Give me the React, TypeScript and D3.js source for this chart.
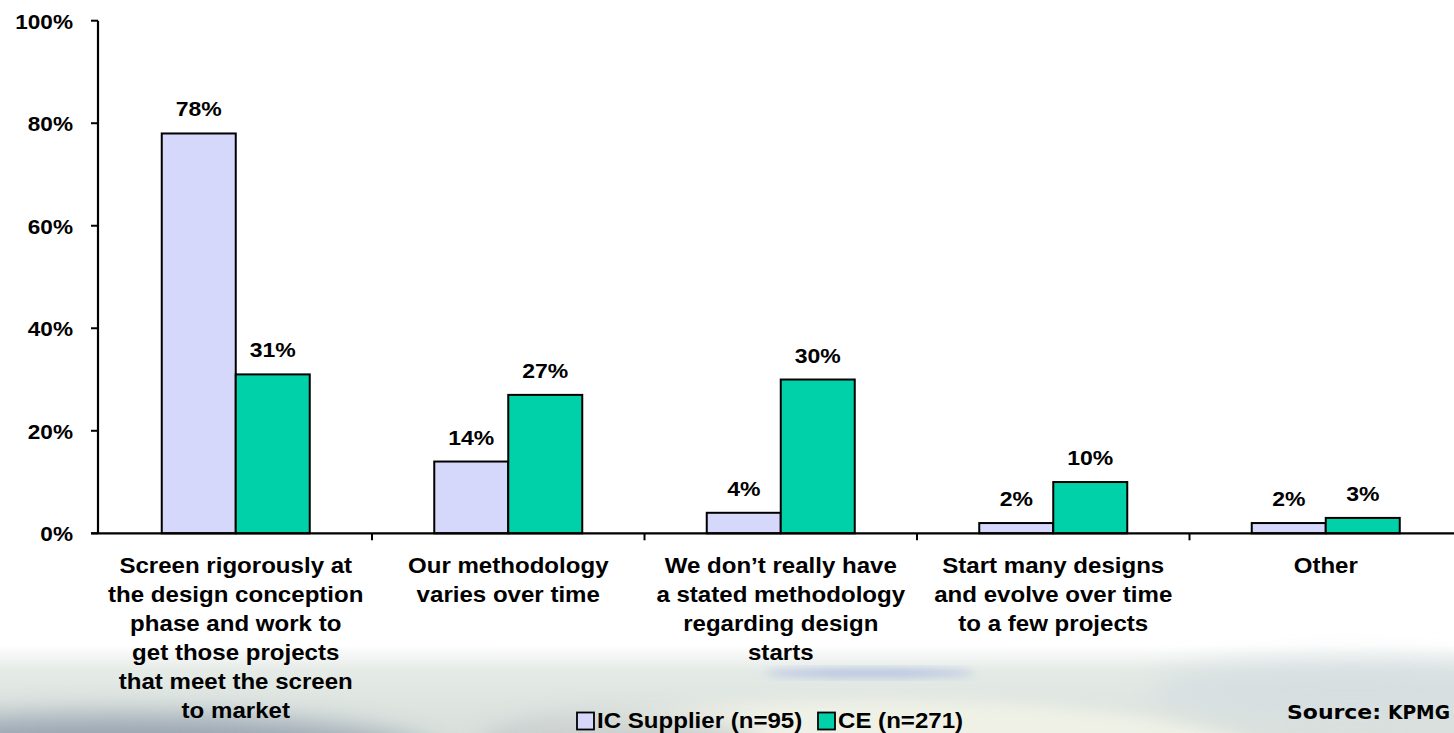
import React from "react";
import * as d3 from "d3";

const categories: string[][] = [
  ["Screen rigorously at", "the design conception", "phase and work to", "get those projects", "that meet the screen", "to market"],
  ["Our methodology", "varies over time"],
  ["We don’t really have", "a stated methodology", "regarding design", "starts"],
  ["Start many designs", "and evolve over time", "to a few projects"],
  ["Other"],
];
const seriesNames = ["IC Supplier (n=95)", "CE (n=271)"];
const icSupplier = [78, 14, 4, 2, 2];
const ce = [31, 27, 30, 10, 3];
const yTicks = [0, 20, 40, 60, 80, 100];
const colors = ["#D5D7FB", "#00D1A9"];
const sourceParts = ["Source:", "KPMG"];

const W = 1454;
const H = 733;
const FONT = "'Liberation Sans', Arial, Helvetica, sans-serif";

export default function App() {
  const keys = categories.map((_, i) => String(i));
  const bandW = 272.5;
  const x0 = d3.scaleBand<string>().domain(keys).range([99.5, 99.5 + bandW * keys.length]).padding(0);
  const bw = x0.bandwidth();
  const groupW = 148;
  const x1 = d3.scaleBand<string>().domain(seriesNames).range([(bw - groupW) / 2, (bw + groupW) / 2]).padding(0);
  const y = d3.scaleLinear().domain([0, 100]).range([533.3, 20.7]);
  const series = [icSupplier, ce];
  const axisX = 98;

  return (
    <svg width={W} height={H} style={{ position: "absolute", left: 0, top: 0 }} xmlns="http://www.w3.org/2000/svg">
      <defs>
        <linearGradient id="bgGrad" x1="0" y1="0" x2="0" y2="1">
          <stop offset="0" stopColor="#ffffff" />
          <stop offset="0.3" stopColor="#e4eae6" />
          <stop offset="1" stopColor="#d9e0dc" />
        </linearGradient>
        <filter id="blur8" x="-50%" y="-50%" width="200%" height="200%">
          <feGaussianBlur stdDeviation="8" />
        </filter>
        <filter id="blur4" x="-50%" y="-50%" width="200%" height="200%">
          <feGaussianBlur stdDeviation="4" />
        </filter>
        <filter id="blur14" x="-50%" y="-50%" width="200%" height="200%">
          <feGaussianBlur stdDeviation="14" />
        </filter>
      </defs>
      <rect x={0} y={0} width={W} height={H} fill="#ffffff" />
      {/* background swoosh */}
      <rect x={0} y={645} width={W} height={H - 645} fill="url(#bgGrad)" />
      <ellipse cx={110} cy={760} rx={330} ry={45} fill="#8895a7" filter="url(#blur14)" opacity={0.8} />
      <ellipse cx={880} cy={765} rx={400} ry={65} fill="#f3f4e8" filter="url(#blur8)" opacity={0.85} />
      <ellipse cx={870} cy={673} rx={105} ry={4} fill="#9fb0df" filter="url(#blur4)" opacity={0.75} />
      <ellipse cx={1350} cy={690} rx={200} ry={30} fill="#d3dbe0" filter="url(#blur14)" opacity={0.7} />
      <ellipse cx={620} cy={748} rx={140} ry={28} fill="#9ea6b0" filter="url(#blur14)" opacity={0.5} />

      {/* bars */}
      {keys.map((k, ci) => (
        <g key={k} transform={`translate(${x0(k)},0)`}>
          {seriesNames.map((s, si) => {
            const v = series[si][ci];
            const bx = x1(s)!;
            const by = y(v);
            return (
              <g key={s}>
                <rect x={bx} y={by} width={x1.bandwidth()} height={y(0) - by} fill={colors[si]} stroke="#000" strokeWidth={2} />
                <text
                  transform={`translate(${bx + x1.bandwidth() / 2},${by - 17}) scale(1.15,1)`}
                  textAnchor="middle"
                  fontFamily={FONT}
                  fontWeight="bold"
                  fontSize={20}
                  fill="#000"
                >
                  {v}%
                </text>
              </g>
            );
          })}
        </g>
      ))}

      {/* y axis */}
      <line x1={axisX} x2={axisX} y1={y(100)} y2={y(0)} stroke="#000" strokeWidth={2.2} />
      {yTicks.map((t) => (
        <g key={t}>
          <line x1={axisX - 7} x2={axisX} y1={y(t)} y2={y(t)} stroke="#000" strokeWidth={2} />
          <text
            transform={`translate(73,${y(t) + 8}) scale(1.13,1)`}
            textAnchor="end"
            fontFamily={FONT}
            fontWeight="bold"
            fontSize={20}
            fill="#000"
          >
            {t}%
          </text>
        </g>
      ))}

      {/* x axis */}
      <line x1={axisX - 7} x2={W} y1={y(0)} y2={y(0)} stroke="#000" strokeWidth={2.2} />
      {keys.map((k) => (
        <line key={k} x1={x0(k)! + bw} x2={x0(k)! + bw} y1={y(0)} y2={y(0) + 7} stroke="#000" strokeWidth={2} />
      ))}

      {/* category labels */}
      {keys.map((k, ci) => (
        <g key={k}>
          {categories[ci].map((line, li) => (
            <text
              key={li}
              transform={`translate(${x0(k)! + bw / 2},${573 + li * 29}) scale(1.12,1)`}
              textAnchor="middle"
              fontFamily={FONT}
              fontWeight="bold"
              fontSize={21.5}
              fill="#000"
            >
              {line}
            </text>
          ))}
        </g>
      ))}

      {/* legend */}
      <rect x={577} y={712.5} width={17} height={17} fill={colors[0]} stroke="#000" strokeWidth={1.8} />
      <text transform={`translate(597,728) scale(1.12,1)`} fontFamily={FONT} fontWeight="bold" fontSize={21.5} fill="#000">
        {seriesNames[0]}
      </text>
      <rect x={818} y={712.5} width={17} height={17} fill={colors[1]} stroke="#000" strokeWidth={1.8} />
      <text transform={`translate(838,728) scale(1.12,1)`} fontFamily={FONT} fontWeight="bold" fontSize={21.5} fill="#000">
        {seriesNames[1]}
      </text>

      {/* source */}
      <text
        x={1287}
        y={719}
        fontFamily="'DejaVu Sans', Verdana, sans-serif"
        fontWeight="bold"
        fontSize={20}
        fill="#000"
        textLength={94}
        lengthAdjust="spacingAndGlyphs"
      >
        {sourceParts[0]}
      </text>
      <text
        x={1388}
        y={719}
        fontFamily="'DejaVu Sans', Verdana, sans-serif"
        fontWeight="bold"
        fontSize={19}
        fill="#000"
        textLength={62}
        lengthAdjust="spacingAndGlyphs"
      >
        {sourceParts[1]}
      </text>
    </svg>
  );
}
